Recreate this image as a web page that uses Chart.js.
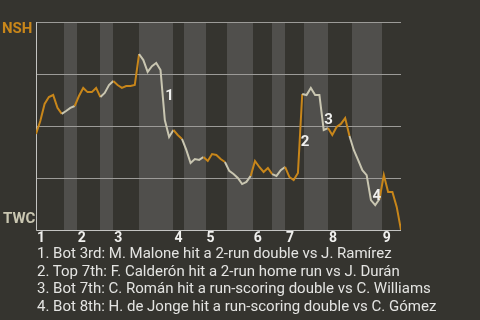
<!DOCTYPE html>
<html>
<head>
<meta charset="utf-8">
<script src="https://cdn.jsdelivr.net/npm/chart.js@4/dist/chart.umd.min.js"></script>
<style>
  html, body { margin: 0; padding: 0; background: #35342f; }
  #wrap { position: relative; width: 480px; height: 320px; overflow: hidden; }
  #chart { position: absolute; left: 0; top: 0; }
  #notes {
    position: absolute; left: 37px; top: 245px;
    font-family: Roboto, sans-serif; font-size: 15px; line-height: 17.7px;
    color: #e4e4e2; white-space: nowrap;
  }
</style>
</head>
<body>
<div id="wrap">
  <canvas id="chart" width="480" height="320"></canvas>
  <div id="notes"></div>
</div>
<script>
// win probability for NSH after each plate appearance
const winProb = [
  0.462, 0.524, 0.606, 0.639, 0.649, 0.587, 0.558, 0.572, 0.587, 0.596,
  0.644, 0.683, 0.663, 0.663, 0.683, 0.639, 0.659, 0.697, 0.716, 0.697,
  0.683, 0.692, 0.692, 0.697, 0.846, 0.817, 0.760, 0.788, 0.803, 0.769,
  0.529, 0.447, 0.481, 0.457, 0.438, 0.385, 0.322, 0.341, 0.337, 0.351,
  0.332, 0.365, 0.361, 0.341, 0.327, 0.284, 0.269, 0.250, 0.221, 0.231,
  0.260, 0.332, 0.303, 0.279, 0.298, 0.269, 0.260, 0.288, 0.303, 0.255,
  0.240, 0.274, 0.654, 0.649, 0.683, 0.649, 0.649, 0.481, 0.490, 0.457,
  0.495, 0.510, 0.538, 0.452, 0.385, 0.337, 0.288, 0.264, 0.144, 0.120,
  0.149, 0.264, 0.183, 0.183, 0.111, 0.000
];
// end of each half inning, in plate appearances
const halfEnds = [6.5, 9.5, 15, 18, 24, 32, 34.5, 39.5, 44.5, 50.5, 55, 58, 62.5, 68, 73.5, 80.5, 85];
const innings = ['1', '2', '3', '4', '5', '6', '7', '8', '9'];
const gridValues = [0.25, 0.5, 0.75, 1];
const teams = ['NSH', 'TWC'];
// key moments: plate appearance index and label
const eventAt = [30, 62, 67, 78];
const eventLabels = ['1', '2', '3', '4'];
const notes = [
  '1. Bot 3rd: M. Malone hit a 2-run double vs J. Ramírez',
  '2. Top 7th: F. Calderón hit a 2-run home run vs J. Durán',
  '3. Bot 7th: C. Román hit a run-scoring double vs C. Williams',
  '4. Bot 8th: H. de Jonge hit a run-scoring double vs C. Gómez'
];

const ORANGE = '#c8861a';
const LIGHT = '#c9c6b1';
const BG = '#35342f';
const BAND = '#504f4c';

document.getElementById('notes').innerHTML = notes.map(n => '<div>' + n + '</div>').join('');

const inningStart = innings.map((_, i) => i === 0 ? 0 : halfEnds[2 * i - 1]);

function isTopHalf(x) {
  for (let k = 0; k < halfEnds.length; k++) {
    if (x < halfEnds[k]) return k % 2 === 0;
  }
  return true;
}

const labelOffsets = [[7, 1], [5, 9], [7, 8], [8, 9]];

const wpPlugin = {
  id: 'wp',
  beforeDraw(chart) {
    const { ctx, chartArea: a, scales: { x, y } } = chart;
    ctx.save();
    ctx.fillStyle = BG;
    ctx.fillRect(0, 0, chart.width, chart.height);
    // bottom halves shaded
    ctx.fillStyle = BAND;
    for (let k = 1; k < halfEnds.length; k += 2) {
      const x0 = Math.round(x.getPixelForValue(halfEnds[k - 1]));
      const x1 = Math.round(x.getPixelForValue(halfEnds[k]));
      ctx.fillRect(x0, a.top, x1 - x0, a.bottom - a.top);
    }
    ctx.strokeStyle = '#9c9b98';
    ctx.lineWidth = 1;
    gridValues.forEach(v => {
      const py = Math.round(y.getPixelForValue(v)) + 0.5;
      ctx.beginPath();
      ctx.moveTo(a.left, py);
      ctx.lineTo(a.right, py);
      ctx.stroke();
    });
    ctx.strokeStyle = '#c4c4c2';
    ctx.beginPath();
    ctx.moveTo(a.left + 0.5, a.top);
    ctx.lineTo(a.left + 0.5, a.bottom + 0.5);
    ctx.lineTo(a.right, a.bottom + 0.5);
    ctx.stroke();
    ctx.restore();
  },
  afterDraw(chart) {
    const { ctx, chartArea: a, scales: { x, y } } = chart;
    ctx.save();
    ctx.font = 'bold 15px Roboto';
    ctx.textAlign = 'left';
    ctx.textBaseline = 'top';
    ctx.fillStyle = ORANGE;
    ctx.fillText(teams[0], 2, a.top);
    ctx.fillStyle = LIGHT;
    ctx.textBaseline = 'bottom';
    ctx.fillText(teams[1], 3, a.bottom - 3);

    ctx.font = 'bold 14px Roboto';
    ctx.fillStyle = '#f0f0ee';
    ctx.textBaseline = 'top';
    innings.forEach((lab, i) => {
      ctx.fillText(lab, x.getPixelForValue(inningStart[i]) + 1, a.bottom + 1);
    });

    ctx.font = 'bold 15px Roboto';
    ctx.textAlign = 'center';
    ctx.textBaseline = 'middle';
    eventAt.forEach((idx, i) => {
      const px = (x.getPixelForValue(idx - 1) + x.getPixelForValue(idx)) / 2;
      const py = (y.getPixelForValue(winProb[idx - 1]) + y.getPixelForValue(winProb[idx])) / 2;
      ctx.fillText(eventLabels[i], px + labelOffsets[i][0], py + labelOffsets[i][1]);
    });
    ctx.restore();
  }
};

new Chart(document.getElementById('chart'), {
  type: 'line',
  data: {
    datasets: [{
      data: winProb.map((v, i) => ({ x: i, y: v })),
      borderWidth: 2,
      pointRadius: 0,
      tension: 0,
      borderColor: ORANGE,
      segment: {
        borderColor: c => isTopHalf((c.p0.parsed.x + c.p1.parsed.x) / 2) ? ORANGE : LIGHT
      }
    }]
  },
  options: {
    responsive: false,
    animation: false,
    layout: { padding: { left: 36, right: 79, top: 22, bottom: 90 } },
    scales: {
      x: { type: 'linear', min: 0, max: 85, display: false },
      y: { min: 0, max: 1, display: false }
    },
    plugins: { legend: { display: false }, tooltip: { enabled: false } }
  },
  plugins: [wpPlugin]
});
</script>
</body>
</html>
